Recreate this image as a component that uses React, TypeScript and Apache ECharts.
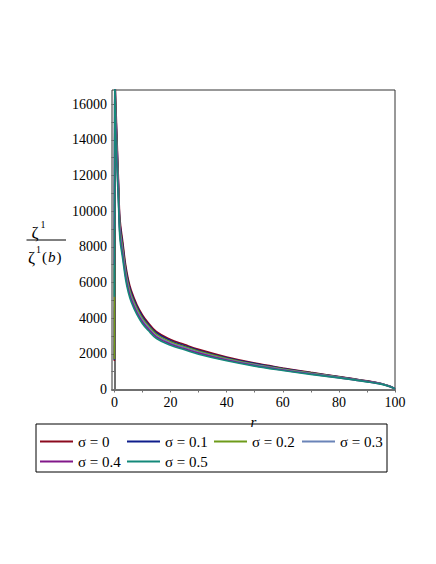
import React, { useEffect, useRef } from "react";
import * as echarts from "echarts";

const R = [0, 0.15, 0.5, 1, 1.5, 2, 3, 4, 5, 6, 8, 10, 12, 15, 20, 25, 30, 40, 50, 60, 70, 80, 90, 95, 98, 100];

const SIGMA_0 = [1600, 18020, 16110, 13780, 11550, 9540, 8270, 7000, 6150, 5570, 4770, 4190, 3760, 3240, 2810, 2520, 2250, 1820, 1480, 1210, 960, 730, 490, 340, 190, 40];
const SIGMA_01 = [1650, 17600, 15730, 13460, 11280, 9320, 8070, 6830, 6000, 5430, 4660, 4090, 3670, 3170, 2740, 2460, 2190, 1780, 1450, 1180, 940, 710, 480, 330, 190, 40];
const SIGMA_02 = [1700, 17400, 15350, 13130, 11010, 9090, 7880, 6670, 5860, 5300, 4550, 3990, 3590, 3090, 2680, 2400, 2140, 1740, 1410, 1150, 920, 700, 460, 320, 180, 40];
const SIGMA_03 = [9000, 17200, 14970, 12810, 10740, 8870, 7680, 6500, 5710, 5170, 4430, 3890, 3500, 3010, 2610, 2340, 2090, 1690, 1380, 1120, 900, 680, 450, 320, 180, 40];
const SIGMA_04 = [7000, 17000, 14590, 12480, 10460, 8640, 7490, 6340, 5570, 5040, 4320, 3790, 3410, 2940, 2540, 2280, 2040, 1650, 1340, 1090, 870, 660, 440, 310, 170, 40];
const SIGMA_05 = [5200, 16900, 14210, 12160, 10190, 8420, 7290, 6170, 5420, 4910, 4210, 3690, 3320, 2860, 2480, 2230, 1980, 1610, 1310, 1070, 850, 650, 430, 300, 170, 40];

const SERIES_NAMES = ["σ = 0", "σ = 0.1", "σ = 0.2", "σ = 0.3", "σ = 0.4", "σ = 0.5"];
const SERIES_VALUES = [SIGMA_0, SIGMA_01, SIGMA_02, SIGMA_03, SIGMA_04, SIGMA_05];
const COLORS = ["#8B0A1E", "#0F1E8C", "#6E9B1A", "#6A84B8", "#82188A", "#14897A"];

const X_LABELS = [0, 20, 40, 60, 80, 100];
const X_TICKS = [0, 10, 20, 30, 40, 50, 60, 70, 80, 90, 100];
const Y_LABELS = [0, 2000, 4000, 6000, 8000, 10000, 12000, 14000, 16000];
const Y_TICKS = [0, 1000, 2000, 3000, 4000, 5000, 6000, 7000, 8000, 9000, 10000, 11000, 12000, 13000, 14000, 15000, 16000];

const SERIF = "Liberation Serif";

export default function App() {
  const ref = useRef<HTMLDivElement>(null);

  useEffect(() => {
    if (!ref.current) return;
    const chart = echarts.init(ref.current, undefined, { renderer: "svg" });

    const legendPos = [
      [40, 434], [127, 434], [214, 434], [302, 434],
      [40, 454], [127, 454],
    ];

    const lineSeries: any[] = [];
    SERIES_NAMES.forEach((name, i) => {
      const pts = R.map((r, j) => [r, SERIES_VALUES[i][j]]);
      // vertical start segment at r = 0
      lineSeries.push({
        name,
        type: "line",
        data: pts.slice(0, 2),
        showSymbol: false,
        symbol: "none",
        smooth: false,
        clip: true,
        color: COLORS[i],
        lineStyle: { color: COLORS[i], width: 1.6 },
      });
      lineSeries.push({
        name,
        type: "line",
        data: pts.slice(1),
        showSymbol: false,
        symbol: "none",
        smooth: 0.4,
        clip: true,
        color: COLORS[i],
        lineStyle: { color: COLORS[i], width: 1.6 },
      });
    });

    const txt = (size: number, extra: any = {}) => ({
      fontFamily: SERIF,
      fontSize: size,
      fill: "#000",
      ...extra,
    });

    const option: any = {
      animation: false,
      backgroundColor: "#fff",
      grid: {
        left: 112,
        top: 90,
        width: 283,
        height: 299.5,
        show: true,
        borderColor: "#333",
        borderWidth: 1,
        backgroundColor: "transparent",
      },
      xAxis: {
        type: "value",
        min: -0.85,
        max: 100,
        name: "r",
        nameLocation: "middle",
        nameGap: 17,
        nameTextStyle: { fontFamily: SERIF, fontStyle: "italic", fontSize: 15, color: "#000" },
        axisLine: { show: true, lineStyle: { color: "#707070", width: 2 } },
        axisTick: { show: true, customValues: X_TICKS, length: 3, lineStyle: { color: "#707070" } },
        axisLabel: {
          customValues: X_LABELS,
          fontFamily: SERIF,
          fontSize: 14,
          color: "#000",
          margin: 6,
          formatter: (v: number) => String(v),
        },
        splitLine: { show: false },
      },
      yAxis: {
        type: "value",
        min: 0,
        max: 16800,
        axisLine: { show: true, lineStyle: { color: "#707070", width: 2 } },
        axisTick: { show: true, customValues: Y_TICKS, length: 3, lineStyle: { color: "#707070" } },
        axisLabel: {
          customValues: Y_LABELS,
          fontFamily: SERIF,
          fontSize: 14,
          color: "#000",
          margin: 5,
          formatter: (v: number) => String(v),
        },
        splitLine: { show: false },
      },
      legend: SERIES_NAMES.map((name, i) => ({
        data: [name],
        left: legendPos[i][0],
        top: legendPos[i][1],
        padding: 0,
        icon: "rect",
        itemWidth: 33,
        itemHeight: 2,
        itemGap: 5,
        selectedMode: false,
        textStyle: { fontFamily: SERIF, fontSize: 15, color: "#000" },
      })),
      series: lineSeries,
      graphic: [
        {
          type: "rect",
          shape: { x: 36, y: 424, width: 351, height: 48 },
          style: { fill: "none", stroke: "#000", lineWidth: 1 },
        },
        {
          type: "text",
          x: 35,
          y: 232,
          style: { text: "ζ", ...txt(17), align: "center", verticalAlign: "middle" },
        },
        {
          type: "text",
          x: 43,
          y: 224,
          style: { text: "1", ...txt(10), align: "center", verticalAlign: "middle" },
        },
        {
          type: "line",
          shape: { x1: 26.5, y1: 240, x2: 66, y2: 240 },
          style: { stroke: "#000", lineWidth: 1 },
        },
        {
          type: "text",
          x: 31.5,
          y: 257,
          style: { text: "ζ", ...txt(17), align: "center", verticalAlign: "middle" },
        },
        {
          type: "text",
          x: 38.5,
          y: 249.5,
          style: { text: "1", ...txt(10), align: "center", verticalAlign: "middle" },
        },
        {
          type: "text",
          x: 42,
          y: 257,
          style: {
            text: "{n|(}{i|b}{n|)}",
            ...txt(15),
            align: "left",
            verticalAlign: "middle",
            rich: {
              n: { fontFamily: SERIF, fontSize: 15, fill: "#000" },
              i: { fontFamily: SERIF, fontSize: 15, fontStyle: "italic", fill: "#000", padding: [0, 1, 0, 1] },
            },
          },
        },
      ],
    };

    chart.setOption(option);
    return () => chart.dispose();
  }, []);

  return (
    <div
      ref={ref}
      style={{ position: "fixed", left: 0, top: 0, width: 436, height: 564, background: "#fff" }}
    />
  );
}
